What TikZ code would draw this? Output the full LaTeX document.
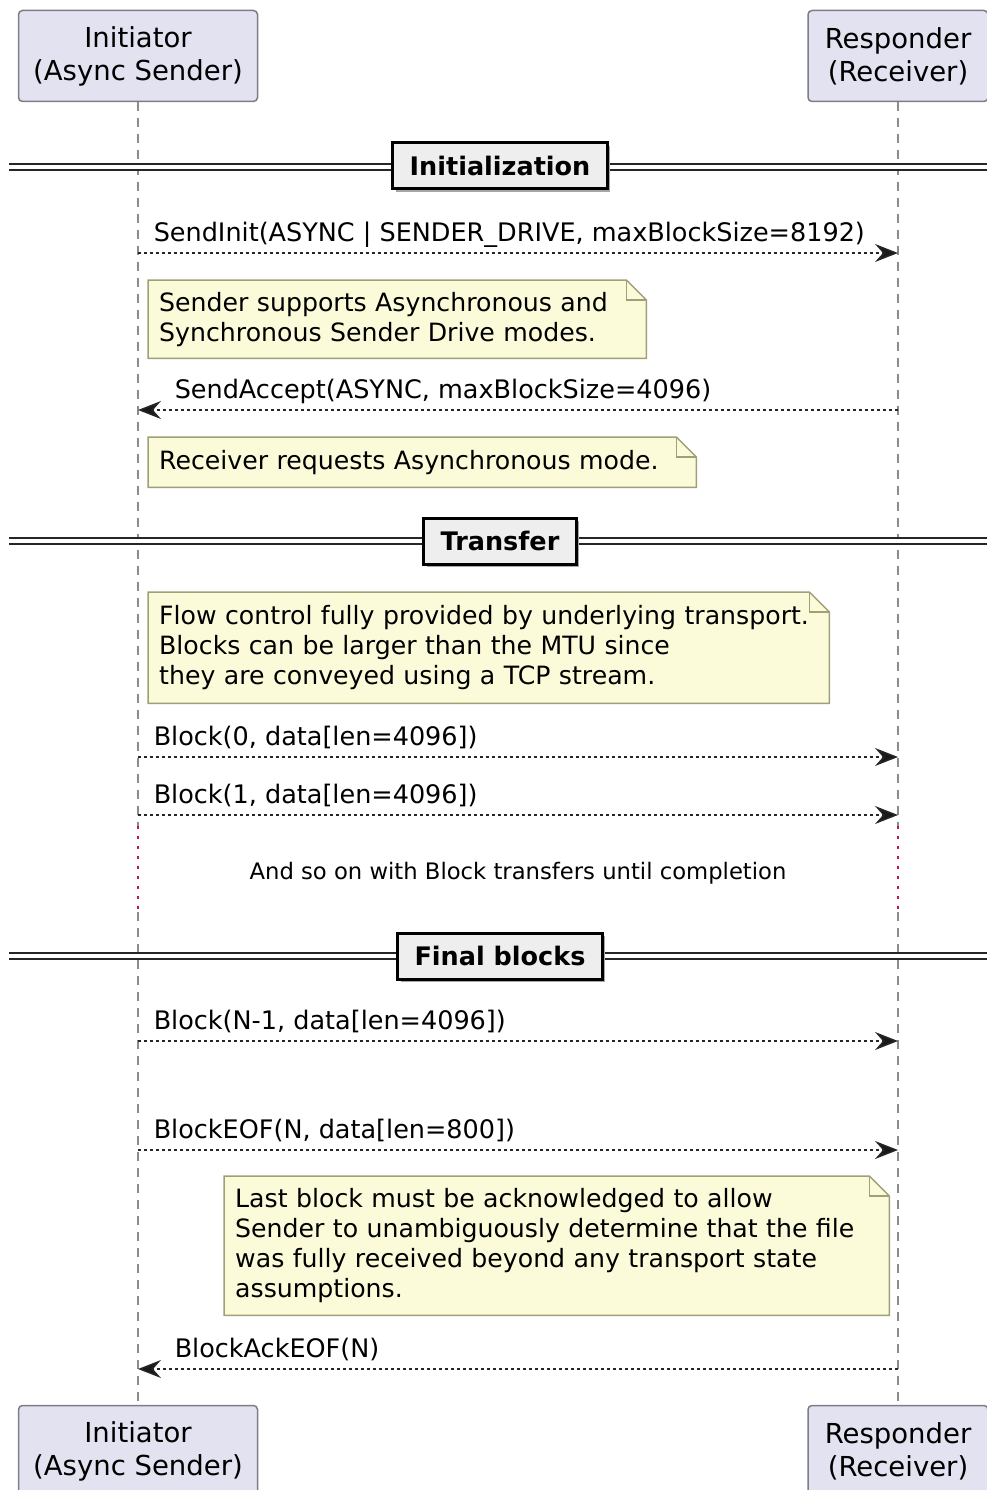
\documentclass[tikz,border=0pt]{standalone}
\usepackage{fontspec}
\setmainfont{DejaVu Sans}
\usetikzlibrary{arrows.meta, positioning, calc, backgrounds, shadows}
\definecolor{partbg}{RGB}{226,226,240}
\definecolor{partbd}{RGB}{125,125,135}
\definecolor{notebg}{RGB}{251,251,218}
\definecolor{notebd}{RGB}{160,160,120}
\definecolor{divbg}{RGB}{238,238,238}
\definecolor{delayred}{RGB}{190,20,80}
\newcommand{\partfont}{\fontsize{27.5}{33}\selectfont}
\newcommand{\msgfont}{\fontsize{25.5}{30}\selectfont}
\newcommand{\notefont}{\fontsize{25.2}{30}\selectfont}
\newcommand{\delayfont}{\fontsize{22.7}{27}\selectfont}
% note outline with folded corner, drawn behind the text node
\newcommand{\notefold}[1]{%
  \begin{scope}[on background layer]
    \filldraw[fill=notebg, draw=notebd, line width=1.5pt]
      (#1.north west) -- ([xshift=-20pt]#1.north east) -- ([yshift=-20pt]#1.north east)
      -- (#1.south east) -- (#1.south west) -- cycle;
    \draw[notebd, line width=1.5pt] ([xshift=-20pt]#1.north east) |- ([yshift=-20pt]#1.north east);
  \end{scope}}

\begin{document}
\begin{tikzpicture}[x=1pt, y=-1pt,
    part/.style={draw=partbd, fill=partbg, line width=1.5pt, rounded corners=4pt,
                 minimum height=91pt, align=center, font=\partfont, inner sep=0pt},
    life/.style={draw=black!45, line width=1.5pt, dash pattern=on 9pt off 7pt},
    delay/.style={draw=delayred, line width=2.5pt, dash pattern=on 2.5pt off 7.5pt},
    msg/.style={draw=black!85, line width=1.5pt, dash pattern=on 3pt off 3pt,
                -{Stealth[length=23pt, width=18pt, inset=8pt, fill=black!90]}},
    lbl/.style={font=\msgfont, inner sep=0pt, anchor=base west},
    note/.style={font=\notefont, anchor=north west, align=left, inner xsep=11pt, inner ysep=0pt},
    sep/.style={draw=black!85, line width=1.8pt, double=white, double distance=4.5pt},
    divbox/.style={draw=black, line width=3pt, fill=divbg, font=\msgfont\bfseries,
                   minimum height=46pt, inner xsep=17pt,
                   drop shadow={shadow xshift=3pt, shadow yshift=-3pt, fill=black!35, opacity=1}}
  ]
  \useasboundingbox (0,0) rectangle (987,1490);

  % participants
  \node[part, minimum width=239pt] (ini) at (138,56) {Initiator\\(Async Sender)};
  \node[part, minimum width=180pt] (res) at (898,56) {Responder\\(Receiver)};
  \node[part, minimum width=239pt] (iniB) at (138,1451) {Initiator\\(Async Sender)};
  \node[part, minimum width=180pt] (resB) at (898,1451) {Responder\\(Receiver)};

  % lifelines, broken by the delay
  \coordinate (iniD) at (138,826);  \coordinate (iniE) at (138,912);
  \coordinate (resD) at (898,826);  \coordinate (resE) at (898,912);
  \begin{scope}[on background layer]
    \draw[life] (ini) -- (iniD);
    \draw[life] (iniE) -- (iniB);
    \draw[life] (res) -- (resD);
    \draw[life] (resE) -- (resB);
    \draw[delay] (iniD) -- (iniE);
    \draw[delay] (resD) -- (resE);
  \end{scope}

  % message end points on the lifelines
  \foreach \n/\y in {1/253, 2/410, 3/757, 4/815, 5/1041, 6/1150, 7/1369} {
    \coordinate (s\n) at (138,\y);
    \coordinate (r\n) at (898,\y);
  }

  % dividers
  \coordinate (initL) at (9,167);   \coordinate (initR) at (987,167);
  \coordinate (xferL) at (9,541);   \coordinate (xferR) at (987,541);
  \coordinate (finL) at (9,956);    \coordinate (finR) at (987,956);
  \draw[sep] (initL) -- (initR);
  \draw[sep] (xferL) -- (xferR);
  \draw[sep] (finL) -- (finR);
  \node[divbox] (init) at (500,166) {Initialization};
  \node[divbox] (xfer) at (500,541) {Transfer};
  \node[divbox] (fin) at (500,956) {Final blocks};

  % initialization
  \draw[msg] (s1) -- node[lbl, pos=0, xshift=15pt, yshift=12pt]
    {SendInit(ASYNC | SENDER\_DRIVE, maxBlockSize=8192)} (r1);
  \node[note, text width=476pt, minimum height=78pt] (n1) at (148,280)
    {Sender supports Asynchronous and\\Synchronous Sender Drive modes.};
  \notefold{n1}
  \draw[msg] (r2) -- node[lbl, pos=1, xshift=36pt, yshift=12pt]
    {SendAccept(ASYNC, maxBlockSize=4096)} (s2);
  \node[note, text width=526pt, minimum height=50pt] (n2) at (148,437)
    {Receiver requests Asynchronous mode.};
  \notefold{n2}

  % transfer
  \node[note, text width=659pt, minimum height=111pt] (n3) at (148,592)
    {Flow control fully provided by underlying transport.\\Blocks can be larger than the MTU since\\they are conveyed using a TCP stream.};
  \notefold{n3}
  \draw[msg] (s3) -- node[lbl, pos=0, xshift=15pt, yshift=12pt] {Block(0, data[len=4096])} (r3);
  \draw[msg] (s4) -- node[lbl, pos=0, xshift=15pt, yshift=12pt] {Block(1, data[len=4096])} (r4);
  \node[font=\delayfont] (gap) at (518,873) {And so on with Block transfers until completion};

  % final blocks
  \draw[msg] (s5) -- node[lbl, pos=0, xshift=15pt, yshift=12pt] {Block(N-1, data[len=4096])} (r5);
  \draw[msg] (s6) -- node[lbl, pos=0, xshift=15pt, yshift=12pt] {BlockEOF(N, data[len=800])} (r6);
  \node[note, text width=643pt, minimum height=139pt] (n4) at (224,1176)
    {Last block must be acknowledged to allow\\Sender to unambiguously determine that the file\\was fully received beyond any transport state\\assumptions.};
  \notefold{n4}
  \draw[msg] (r7) -- node[lbl, pos=1, xshift=36pt, yshift=12pt] {BlockAckEOF(N)} (s7);
\end{tikzpicture}
\end{document}
